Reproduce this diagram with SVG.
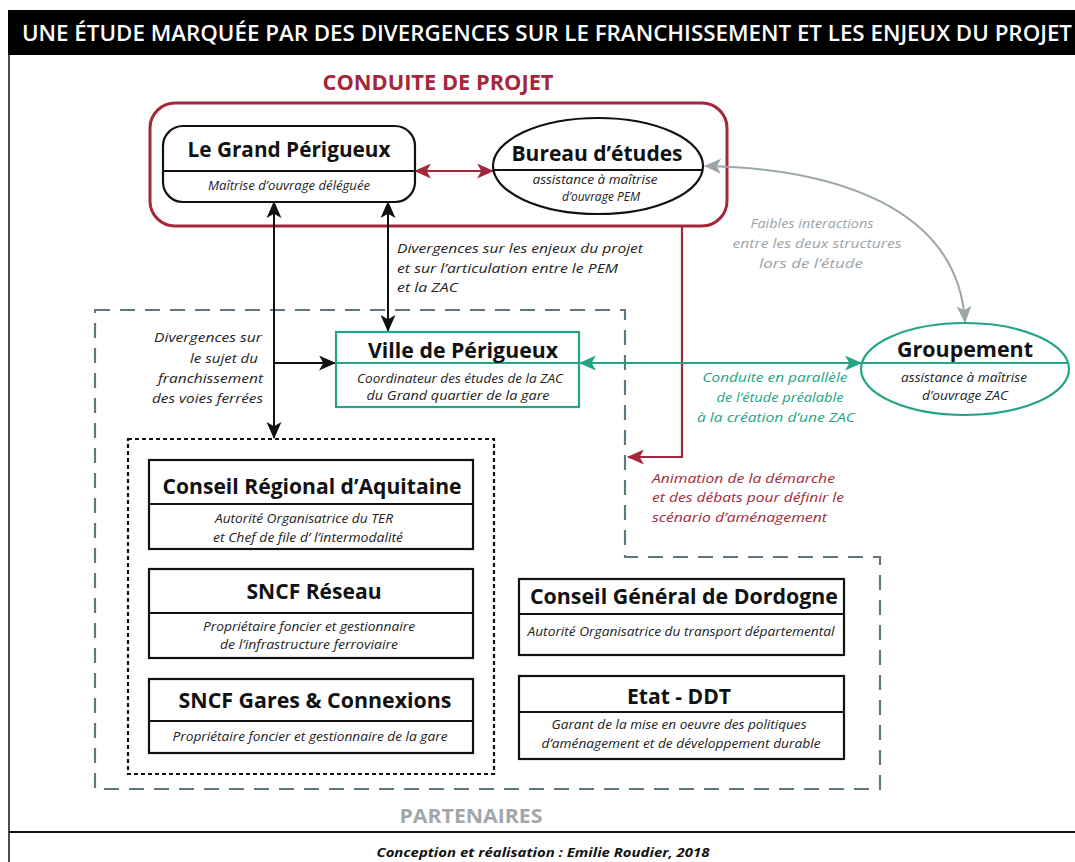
<svg xmlns="http://www.w3.org/2000/svg" width="1075" height="862" viewBox="0 0 1075 862">
<defs>
<style>
text{font-family:'Open Sans','Liberation Sans',sans-serif}
.ttl{font-weight:700;font-size:21.5px;fill:#111;text-anchor:middle}
.sub{font-style:italic;font-size:12px;fill:#222;text-anchor:middle}
.lbl{font-style:italic;font-size:13.5px}
.box{fill:#fff;stroke:#111;stroke-width:2.2}
.div{stroke:#111;stroke-width:2}
.red{stroke:#a3283b;fill:none}
.grn{stroke:#23a487;fill:none}
</style>
<marker id="aBlk" viewBox="0 0 16 14" refX="15" refY="7" markerWidth="17" markerHeight="15" markerUnits="userSpaceOnUse" orient="auto-start-reverse"><path d="M0,0 L16,7 L0,14 L4,7 Z" fill="#111"/></marker>
<marker id="aRed" viewBox="0 0 16 14" refX="15" refY="7" markerWidth="17" markerHeight="15" markerUnits="userSpaceOnUse" orient="auto-start-reverse"><path d="M0,0 L16,7 L0,14 L4,7 Z" fill="#a3283b"/></marker>
<marker id="aGrn" viewBox="0 0 16 14" refX="15" refY="7" markerWidth="17" markerHeight="15" markerUnits="userSpaceOnUse" orient="auto-start-reverse"><path d="M0,0 L16,7 L0,14 L4,7 Z" fill="#23a487"/></marker>
<marker id="aGry" viewBox="0 0 16 14" refX="15" refY="7" markerWidth="17" markerHeight="15" markerUnits="userSpaceOnUse" orient="auto-start-reverse"><path d="M0,0 L16,7 L0,14 L4,7 Z" fill="#9aa6a8"/></marker>
</defs>
<rect width="1075" height="862" fill="#fff"/>
<g id="frame">
<line x1="9" y1="10" x2="9" y2="862" stroke="#111" stroke-width="1.5"/>
<rect x="8" y="10" width="1067" height="45" fill="#000"/>
<text x="22" y="41" font-size="22" font-weight="600" fill="#fff" textLength="1050" lengthAdjust="spacingAndGlyphs">UNE ÉTUDE MARQUÉE PAR DES DIVERGENCES SUR LE FRANCHISSEMENT ET LES ENJEUX DU PROJET</text>
<line x1="9" y1="832" x2="1075" y2="832" stroke="#111" stroke-width="2"/>
<text x="543" y="857" font-size="13" font-weight="700" font-style="italic" fill="#111" text-anchor="middle" textLength="333" lengthAdjust="spacingAndGlyphs">Conception et réalisation : Emilie Roudier, 2018</text>
</g>
<g id="conduite">
<rect x="150" y="103" width="577" height="123" rx="25" fill="none" stroke="#a3283b" stroke-width="3"/>
<text x="438" y="90" font-size="21" font-weight="700" fill="#a3283b" text-anchor="middle" textLength="231" lengthAdjust="spacingAndGlyphs">CONDUITE DE PROJET</text>
</g>
<g id="partenaires">
<path d="M95,310 H625 V557 H880 V789 H95 Z" fill="none" stroke="#5f7880" stroke-width="2.2" stroke-dasharray="15 10"/>
<text x="471" y="823" font-size="20" font-weight="700" fill="#a2a8aa" text-anchor="middle" textLength="143" lengthAdjust="spacingAndGlyphs">PARTENAIRES</text>
</g>
<g id="groupe-ferroviaire">
<rect x="128" y="439" width="366" height="335" fill="none" stroke="#111" stroke-width="2.2" stroke-dasharray="4 3"/>
</g>
<g id="connectors">
<line x1="415" y1="171" x2="493" y2="171" class="red" stroke-width="2" marker-start="url(#aRed)" marker-end="url(#aRed)"/>
<path d="M682,226 V457 H628" class="red" stroke-width="2.2" marker-end="url(#aRed)"/>
<line x1="274" y1="202" x2="274" y2="438" stroke="#111" stroke-width="2" marker-start="url(#aBlk)" marker-end="url(#aBlk)"/>
<line x1="274" y1="363" x2="335" y2="363" stroke="#111" stroke-width="2" marker-end="url(#aBlk)"/>
<line x1="388" y1="202" x2="388" y2="331" stroke="#111" stroke-width="2" marker-start="url(#aBlk)" marker-end="url(#aBlk)"/>
<line x1="580" y1="363" x2="861" y2="363" class="grn" stroke-width="2.2" marker-start="url(#aGrn)" marker-end="url(#aGrn)"/>
<path d="M705,166 C830,168 958,205 965,322" fill="none" stroke="#9aa6a8" stroke-width="2" marker-start="url(#aGry)" marker-end="url(#aGry)"/>
<text class="lbl" fill="#222" x="397" y="253" textLength="246" lengthAdjust="spacingAndGlyphs">Divergences sur les enjeux du projet</text>
<text class="lbl" fill="#222" x="397" y="273" textLength="221" lengthAdjust="spacingAndGlyphs">et sur l’articulation entre le PEM</text>
<text class="lbl" fill="#222" x="397" y="292" textLength="61" lengthAdjust="spacingAndGlyphs">et la ZAC</text>
<text class="lbl" fill="#222" x="262" y="342" text-anchor="end" textLength="108" lengthAdjust="spacingAndGlyphs">Divergences sur</text>
<text class="lbl" fill="#222" x="258" y="363" text-anchor="end" textLength="68" lengthAdjust="spacingAndGlyphs">le sujet du</text>
<text class="lbl" fill="#222" x="263" y="383" text-anchor="end" textLength="105" lengthAdjust="spacingAndGlyphs">franchissement</text>
<text class="lbl" fill="#222" x="263" y="403" text-anchor="end" textLength="111" lengthAdjust="spacingAndGlyphs">des voies ferrées</text>
<text class="lbl" fill="#9ba3a6" x="812" y="228" text-anchor="middle" textLength="123" lengthAdjust="spacingAndGlyphs">Faibles interactions</text>
<text class="lbl" fill="#9ba3a6" x="817" y="248" text-anchor="middle" textLength="169" lengthAdjust="spacingAndGlyphs">entre les deux structures</text>
<text class="lbl" fill="#9ba3a6" x="811" y="268" text-anchor="middle" textLength="104" lengthAdjust="spacingAndGlyphs">lors de l’étude</text>
<text class="lbl" fill="#23a487" x="775" y="382" text-anchor="middle" textLength="145" lengthAdjust="spacingAndGlyphs">Conduite en parallèle</text>
<text class="lbl" fill="#23a487" x="780" y="402" text-anchor="middle" textLength="127" lengthAdjust="spacingAndGlyphs">de l’étude préalable</text>
<text class="lbl" fill="#23a487" x="776" y="422" text-anchor="middle" textLength="158" lengthAdjust="spacingAndGlyphs">à la création d’une ZAC</text>
<text class="lbl" fill="#a3283b" x="652" y="483" textLength="183" lengthAdjust="spacingAndGlyphs">Animation de la démarche</text>
<text class="lbl" fill="#a3283b" x="652" y="502" textLength="192" lengthAdjust="spacingAndGlyphs">et des débats pour définir le</text>
<text class="lbl" fill="#a3283b" x="652" y="522" textLength="175" lengthAdjust="spacingAndGlyphs">scénario d’aménagement</text>
</g>
<g id="grand-perigueux">
<rect x="163" y="126" width="252" height="76" rx="20" class="box"/>
<line x1="163" y1="171" x2="415" y2="171" class="div"/>
<text class="ttl" x="289" y="157" textLength="203" lengthAdjust="spacingAndGlyphs">Le Grand Périgueux</text>
<text class="sub" x="289" y="190" textLength="162" lengthAdjust="spacingAndGlyphs">Maîtrise d’ouvrage déléguée</text>
</g>
<g id="bureau-etudes">
<ellipse cx="598" cy="166" rx="105" ry="48" class="box"/>
<line x1="494" y1="170" x2="702" y2="170" class="div"/>
<text class="ttl" x="597" y="161" textLength="171" lengthAdjust="spacingAndGlyphs">Bureau d’études</text>
<text class="sub" x="595" y="184" textLength="125" lengthAdjust="spacingAndGlyphs">assistance à maîtrise</text>
<text class="sub" x="601" y="201" textLength="78" lengthAdjust="spacingAndGlyphs">d’ouvrage PEM</text>
</g>
<g id="ville-perigueux">
<rect x="336" y="332" width="243" height="75" fill="#fff" stroke="#23a487" stroke-width="2.2"/>
<line x1="336" y1="363" x2="579" y2="363" stroke="#23a487" stroke-width="2"/>
<text class="ttl" x="463" y="358" textLength="190" lengthAdjust="spacingAndGlyphs">Ville de Périgueux</text>
<text class="sub" x="460" y="383" textLength="206" lengthAdjust="spacingAndGlyphs">Coordinateur des études de la ZAC</text>
<text class="sub" x="458" y="400" textLength="183" lengthAdjust="spacingAndGlyphs">du Grand quartier de la gare</text>
</g>
<g id="groupement">
<ellipse cx="965" cy="369" rx="104" ry="46" fill="#fff" stroke="#23a487" stroke-width="2.2"/>
<line x1="862" y1="363" x2="1068" y2="363" stroke="#23a487" stroke-width="2"/>
<text class="ttl" x="965" y="357" textLength="136" lengthAdjust="spacingAndGlyphs">Groupement</text>
<text class="sub" x="964" y="382" textLength="126" lengthAdjust="spacingAndGlyphs">assistance à maîtrise</text>
<text class="sub" x="965" y="400" textLength="86" lengthAdjust="spacingAndGlyphs">d’ouvrage ZAC</text>
</g>
<g id="conseil-regional">
<rect x="149" y="460" width="324" height="89" class="box"/>
<line x1="149" y1="504" x2="473" y2="504" class="div"/>
<text class="ttl" x="312" y="494" textLength="299" lengthAdjust="spacingAndGlyphs">Conseil Régional d’Aquitaine</text>
<text class="sub" x="304" y="523" textLength="178" lengthAdjust="spacingAndGlyphs">Autorité Organisatrice du TER</text>
<text class="sub" x="308" y="542" textLength="190" lengthAdjust="spacingAndGlyphs">et Chef de file d’ l’intermodalité</text>
</g>
<g id="sncf-reseau">
<rect x="149" y="569" width="324" height="89" class="box"/>
<line x1="149" y1="613" x2="473" y2="613" class="div"/>
<text class="ttl" x="314" y="599" textLength="135" lengthAdjust="spacingAndGlyphs">SNCF Réseau</text>
<text class="sub" x="309" y="631" textLength="212" lengthAdjust="spacingAndGlyphs">Propriétaire foncier et gestionnaire</text>
<text class="sub" x="309" y="649" textLength="178" lengthAdjust="spacingAndGlyphs">de l’infrastructure ferroviaire</text>
</g>
<g id="sncf-gares">
<rect x="149" y="679" width="324" height="74" class="box"/>
<line x1="149" y1="721" x2="473" y2="721" class="div"/>
<text class="ttl" x="315" y="708" textLength="273" lengthAdjust="spacingAndGlyphs">SNCF Gares &amp; Connexions</text>
<text class="sub" x="310" y="741" textLength="275" lengthAdjust="spacingAndGlyphs">Propriétaire foncier et gestionnaire de la gare</text>
</g>
<g id="conseil-general">
<rect x="519" y="579" width="325" height="76" class="box"/>
<line x1="519" y1="614" x2="844" y2="614" class="div"/>
<text class="ttl" x="684" y="604" textLength="308" lengthAdjust="spacingAndGlyphs">Conseil Général de Dordogne</text>
<text class="sub" x="681" y="636" textLength="307" lengthAdjust="spacingAndGlyphs">Autorité Organisatrice du transport départemental</text>
</g>
<g id="etat-ddt">
<rect x="519" y="676" width="325" height="83" class="box"/>
<line x1="519" y1="712" x2="844" y2="712" class="div"/>
<text class="ttl" x="679" y="704" textLength="104" lengthAdjust="spacingAndGlyphs">Etat - DDT</text>
<text class="sub" x="679" y="729" textLength="255" lengthAdjust="spacingAndGlyphs">Garant de la mise en oeuvre des politiques</text>
<text class="sub" x="681" y="748" textLength="279" lengthAdjust="spacingAndGlyphs">d’aménagement et de développement durable</text>
</g>
</svg>
